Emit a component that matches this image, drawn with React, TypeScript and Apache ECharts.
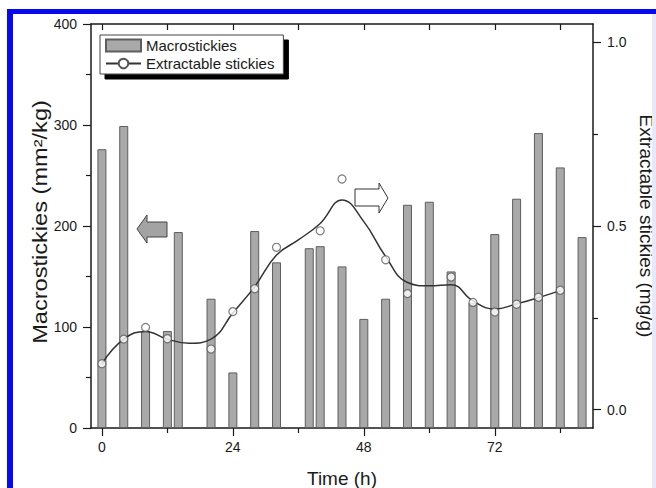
import React, { useEffect, useRef } from "react";
import * as echarts from "echarts";

// Macrostickies area per sampling time (left axis)
const barHours = [0, 4, 8, 12, 14, 20, 24, 28, 32, 38, 40, 44, 48, 52, 56, 60, 64, 68, 72, 76, 80, 84, 88];
const macrostickies = [276, 299, 96, 96, 194, 128, 55, 195, 164, 178, 180, 160, 108, 128, 221, 224, 155, 124, 192, 227, 292, 258, 189];

// Measured extractable stickies (right axis)
const sampleHours = [0, 4, 8, 12, 20, 24, 28, 32, 40, 44, 52, 56, 64, 68, 72, 76, 80, 84];
const extractable = [0.125, 0.192, 0.224, 0.193, 0.165, 0.267, 0.329, 0.442, 0.487, 0.628, 0.408, 0.316, 0.361, 0.292, 0.266, 0.287, 0.306, 0.325];

// Smoothed trend of extractable stickies
const trendHours = [0, 4, 8, 12, 16, 20, 24, 28, 32, 36, 40, 44, 48, 52, 56, 60, 64, 68, 72, 76, 80, 84];
const trendValues = [0.125, 0.192, 0.213, 0.192, 0.181, 0.192, 0.263, 0.335, 0.421, 0.462, 0.507, 0.571, 0.512, 0.417, 0.346, 0.337, 0.34, 0.296, 0.274, 0.288, 0.305, 0.324];

// Axis ticks and labels
const timeLabels = [0, 24, 48, 72];
const timeMinorTicks = [12, 36, 60, 84];
const timeTopTicks = [0, 12, 24, 36, 48, 60, 72, 84];
const rightLabels = [0, 0.5, 1.0];
const rightMinorTicks = [0.25, 0.75];

const leftTitle = "Macrostickies (mm²/kg)";

const FONT = "'Liberation Sans', Arial, Helvetica, sans-serif";
const INK = "#1a1a1a";

export default function App() {
  const ref = useRef<HTMLDivElement>(null);

  useEffect(() => {
    if (!ref.current) return;
    const chart = echarts.init(ref.current, undefined, { renderer: "svg" });

    const axisLine = { show: true, onZero: false, lineStyle: { color: INK, width: 1.5 } };
    const noLine = { show: false, onZero: false };
    const tickStyle = { color: INK, width: 1.2 };
    const labelStyle = { color: INK, fontSize: 14, fontFamily: FONT };
    const xRange = { type: "value" as const, min: -2, max: 90 };

    chart.setOption({
      animation: false,
      backgroundColor: "#ffffff",
      textStyle: { fontFamily: FONT },
      grid: { left: 91, right: 63, top: 24, bottom: 60, containLabel: false, outerBoundsMode: "none" },
      legend: {
        orient: "vertical",
        left: 100,
        top: 35,
        data: [
          { name: "Macrostickies", icon: "rect" },
          { name: "Extractable stickies" },
        ],
        itemWidth: 35,
        itemHeight: 12,
        itemGap: 3,
        padding: [3, 9, 3, 5],
        backgroundColor: "#ffffff",
        borderColor: "#444",
        borderWidth: 1,
        borderRadius: 0,
        shadowColor: "#000000",
        shadowBlur: 0,
        shadowOffsetX: 5,
        shadowOffsetY: 5,
        textStyle: { color: INK, fontSize: 15, fontFamily: FONT },
      },
      xAxis: [
        {
          ...xRange,
          position: "bottom",
          axisLine,
          axisTick: { show: true, length: 8, lineStyle: tickStyle, customValues: timeLabels },
          axisLabel: { ...labelStyle, margin: 12, customValues: timeLabels },
          splitLine: { show: false },
          name: "Time (h)",
          nameLocation: "middle",
          nameGap: 41,
          nameTextStyle: { color: INK, fontSize: 19, fontFamily: FONT },
        },
        {
          ...xRange,
          position: "bottom",
          axisLine: noLine,
          axisTick: { show: true, length: 5, lineStyle: tickStyle, customValues: timeMinorTicks },
          axisLabel: { show: false },
          splitLine: { show: false },
        },
        {
          ...xRange,
          position: "top",
          axisLine,
          axisTick: { show: true, inside: true, length: 6, lineStyle: tickStyle, customValues: timeTopTicks },
          axisLabel: { show: false },
          splitLine: { show: false },
        },
      ],
      yAxis: [
        {
          type: "value",
          position: "left",
          min: 0,
          max: 400,
          interval: 100,
          axisLine,
          axisTick: { show: true, length: 8, lineStyle: tickStyle },
          minorTick: { show: true, splitNumber: 2, length: 5, lineStyle: tickStyle },
          axisLabel: { ...labelStyle, margin: 14 },
          splitLine: { show: false },
          minorSplitLine: { show: false },
        },
        {
          type: "value",
          position: "right",
          min: -0.05,
          max: 1.05,
          axisLine,
          axisTick: { show: true, length: 8, lineStyle: tickStyle, customValues: rightLabels },
          axisLabel: {
            ...labelStyle,
            margin: 14,
            customValues: rightLabels,
            formatter: (v: number) => v.toFixed(1),
          },
          splitLine: { show: false },
          name: "Extractable stickies (mg/g)",
          nameLocation: "middle",
          nameGap: 43,
          nameRotate: -90,
          nameTextStyle: { color: INK, fontSize: 19, fontFamily: FONT },
        },
        {
          type: "value",
          position: "right",
          min: -0.05,
          max: 1.05,
          axisLine: noLine,
          axisTick: { show: true, length: 5, lineStyle: tickStyle, customValues: rightMinorTicks },
          axisLabel: { show: false },
          splitLine: { show: false },
        },
      ],
      series: [
        {
          name: "Macrostickies",
          type: "bar",
          xAxisIndex: 0,
          yAxisIndex: 0,
          barWidth: 9,
          data: barHours.map((h, i) => [h, macrostickies[i]]),
          itemStyle: { color: "#a9a9a9", borderColor: "#5e5e5e", borderWidth: 1 },
          z: 2,
        },
        {
          name: "Extractable stickies",
          type: "line",
          xAxisIndex: 0,
          yAxisIndex: 1,
          smooth: 0.45,
          showSymbol: false,
          symbol: "emptyCircle",
          data: trendHours.map((h, i) => [h, trendValues[i]]),
          lineStyle: { color: "#333333", width: 1.5 },
          itemStyle: { color: "#555555" },
          z: 3,
        },
        {
          name: "Extractable stickies (measured)",
          type: "scatter",
          xAxisIndex: 0,
          yAxisIndex: 1,
          symbol: "circle",
          symbolSize: 8,
          data: sampleHours.map((h, i) => [h, extractable[i]]),
          itemStyle: { color: "#ffffff", borderColor: "#5a5a5a", borderWidth: 1.2 },
          z: 4,
        },
      ],
      graphic: [
        // left axis title, set a little wider than the other titles
        {
          type: "text",
          x: 40,
          y: 222,
          rotation: Math.PI / 2,
          scaleX: 1.18,
          z: 10,
          style: {
            text: leftTitle,
            fill: INK,
            font: `20px ${FONT}`,
            align: "center",
            verticalAlign: "middle",
          },
        },
        // left-pointing arrow: bars read against the left axis
        {
          type: "polygon",
          z: 10,
          shape: {
            points: [
              [137, 229],
              [147, 215],
              [147, 222],
              [167, 222],
              [167, 237],
              [147, 237],
              [147, 243],
            ],
          },
          style: { fill: "#a3a3a3", stroke: "#444", lineWidth: 1 },
        },
        // right-pointing arrow: the trend reads against the right axis
        {
          type: "polygon",
          z: 10,
          shape: {
            points: [
              [355, 189],
              [379, 189],
              [379, 183],
              [388, 198],
              [379, 213],
              [379, 206],
              [355, 206],
            ],
          },
          style: { fill: "#ffffff", stroke: "#333", lineWidth: 1 },
        },
        // page frame
        { type: "rect", z: 20, shape: { x: 7, y: 9, width: 649, height: 5 }, style: { fill: "#0808f0" } },
        { type: "rect", z: 20, shape: { x: 7, y: 9, width: 6, height: 479 }, style: { fill: "#0808f0" } },
        { type: "rect", z: 20, shape: { x: 652, y: 14, width: 4, height: 474 }, style: { fill: "#e8e8f8" } },
      ],
    });

    return () => chart.dispose();
  }, []);

  return (
    <div
      ref={ref}
      style={{ position: "absolute", left: 0, top: 0, width: 656, height: 488 }}
    />
  );
}
